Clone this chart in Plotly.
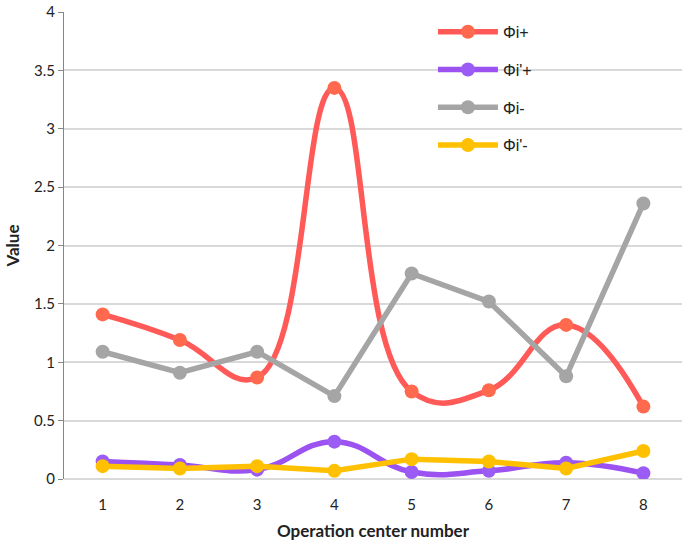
import plotly.graph_objects as go

categories = [1, 2, 3, 4, 5, 6, 7, 8]
phi_i_plus = [1.41, 1.19, 0.87, 3.35, 0.75, 0.76, 1.32, 0.62]
phi_ip_plus = [0.15, 0.12, 0.08, 0.32, 0.06, 0.07, 0.14, 0.05]
phi_i_minus = [1.09, 0.91, 1.09, 0.71, 1.76, 1.52, 0.88, 2.36]
phi_ip_minus = [0.11, 0.09, 0.11, 0.07, 0.17, 0.15, 0.09, 0.24]

series = [
    ("Φi+", phi_i_plus, "#FF5A58", "#FF6A4E", "spline"),
    ("Φi'+", phi_ip_plus, "#9B52F0", "#9A5CF5", "spline"),
    ("Φi-", phi_i_minus, "#A5A5A5", "#A5A5A5", "linear"),
    ("Φi'-", phi_ip_minus, "#FFC000", "#FFC000", "linear"),
]

fig = go.Figure()
for i, (name, vals, lc, mc, shape) in enumerate(series):
    fig.add_trace(go.Scatter(
        x=categories, y=vals, name=name, mode="lines+markers",
        line=dict(color=lc, width=5.5, shape=shape, smoothing=1.25),
        marker=dict(color=mc, size=14),
        legendgroup=f"g{i}",
    ))

fig.update_layout(
    width=685, height=547,
    margin=dict(l=64, r=3, t=12, b=68),
    plot_bgcolor="white", paper_bgcolor="white",
    font=dict(family="Lato, Open Sans, sans-serif", size=15, color="#222"),
    showlegend=True,
    legend=dict(
        x=0.597, y=0.994, xanchor="left", yanchor="top",
        bgcolor="rgba(255,255,255,0)",
        font=dict(family="Liberation Sans, Arial, sans-serif", size=16, color="#222"),
        traceorder="grouped", tracegroupgap=14, itemwidth=60,
    ),
    xaxis=dict(
        type="linear", range=[0.5, 8.5], tickvals=categories,
        showgrid=False, zeroline=False, showline=False,
        ticks="outside", ticklen=12, tickcolor="rgba(0,0,0,0)",
        tickfont=dict(size=15), automargin=False,
        title=dict(text="<b>Operation center number</b>", font=dict(size=17), standoff=13),
    ),
    yaxis=dict(
        range=[0, 4], dtick=0.5, showgrid=True, gridcolor="#D9D9D9", gridwidth=1.5,
        zeroline=True, zerolinecolor="#D9D9D9", zerolinewidth=1.5,
        showline=True, linecolor="#868686", linewidth=1,
        ticks="outside", ticklen=5, tickcolor="#868686",
        tickfont=dict(size=15), automargin=False, ticklabeloverflow="allow",
        title=dict(text="<b>Value</b>", font=dict(size=17), standoff=10),
    ),
)

fig.write_html("out.html", config={"displayModeBar": False},
               post_script="document.body.style.margin='0px';")
